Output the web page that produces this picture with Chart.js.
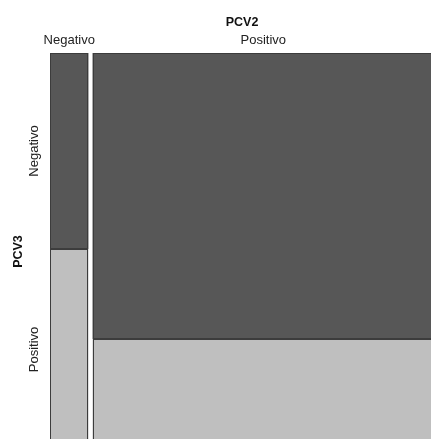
<!DOCTYPE html>
<html>
<head>
<meta charset="utf-8">
<script src="https://cdn.jsdelivr.net/npm/chart.js@4"></script>
<style>
  html, body { margin: 0; padding: 0; background: #fff; overflow: hidden; }
  canvas { display: block; }
</style>
</head>
<body>
<canvas id="myChart" width="434" height="450"></canvas>
<script>
// mosaic: PCV2 (columns) x PCV3 (rows)
const pcv2Labels = ['Negativo', 'Positivo'];
const pcv3Labels = ['Negativo', 'Positivo'];
// counts per PCV2 column, split by PCV3 [Negativo, Positivo]
const countsPcv2Neg = [39, 40];
const countsPcv2Pos = [505, 196];
const cellColors = ['#575757', '#bfbfbf'];

const columns = [countsPcv2Neg, countsPcv2Pos];
const total = columns.reduce((s, c) => s + c[0] + c[1], 0);
const gap = total * 0.0106;

var ctx = document.getElementById('myChart');

const mosaicPlugin = {
    id: 'mosaic',
    beforeDatasetsDraw(chart) {
        const c = chart.ctx;
        const xs = chart.scales.x, ys = chart.scales.y;
        let x0 = 0;
        let colCenters = [];
        let rowCenters = [];
        c.save();
        for (let i = 0; i < columns.length; i++) {
            const colTotal = columns[i][0] + columns[i][1];
            const left = xs.getPixelForValue(x0);
            const right = xs.getPixelForValue(x0 + colTotal);
            colCenters.push((left + right) / 2);
            let y0 = 0;
            for (let j = 0; j < columns[i].length; j++) {
                const frac = columns[i][j] / colTotal;
                const top = ys.getPixelForValue(y0);
                const bottom = ys.getPixelForValue(y0 + frac);
                if (i === 0) rowCenters.push((top + bottom) / 2);
                c.fillStyle = cellColors[j];
                c.fillRect(left, top, right - left, bottom - top);
                c.strokeStyle = '#3c3c3c';
                c.lineWidth = 1;
                c.strokeRect(Math.round(left) + 0.5, Math.round(top) + 0.5, Math.round(right - left) - 1, Math.round(bottom - top) - 1);
                y0 += frac;
            }
            x0 += colTotal + gap;
        }

        // labels
        const area = chart.chartArea;
        c.fillStyle = '#111';
        c.textAlign = 'center';
        c.textBaseline = 'alphabetic';
        c.font = 'bold 12.5px "Liberation Sans", Arial, sans-serif';
        c.fillText('PCV2', (area.left + area.right) / 2, 26);
        c.font = '13px "Liberation Sans", Arial, sans-serif';
        c.fillStyle = '#222';
        for (let i = 0; i < pcv2Labels.length; i++) {
            c.fillText(pcv2Labels[i], colCenters[i], 44);
        }
        for (let j = 0; j < pcv3Labels.length; j++) {
            c.save();
            c.translate(38, rowCenters[j]);
            c.rotate(-Math.PI / 2);
            c.fillText(pcv3Labels[j], 0, 0);
            c.restore();
        }
        c.save();
        c.fillStyle = '#111';
        c.font = 'bold 12.5px "Liberation Sans", Arial, sans-serif';
        c.translate(22, (area.top + area.bottom) / 2);
        c.rotate(-Math.PI / 2);
        c.fillText('PCV3', 0, 0);
        c.restore();
        c.restore();
    }
};

var myChart = new Chart(ctx, {
    type: 'scatter',
    data: { datasets: [{ data: [] }] },
    options: {
        responsive: false,
        animation: false,
        layout: { padding: { left: 50, top: 53, right: 0, bottom: 0 } },
        plugins: { legend: { display: false }, tooltip: { enabled: false } },
        scales: {
            x: { type: 'linear', min: 0, max: total + gap, display: false },
            y: { type: 'linear', min: 0, max: 1, reverse: true, display: false }
        }
    },
    plugins: [mosaicPlugin]
});
</script>
</body>
</html>
